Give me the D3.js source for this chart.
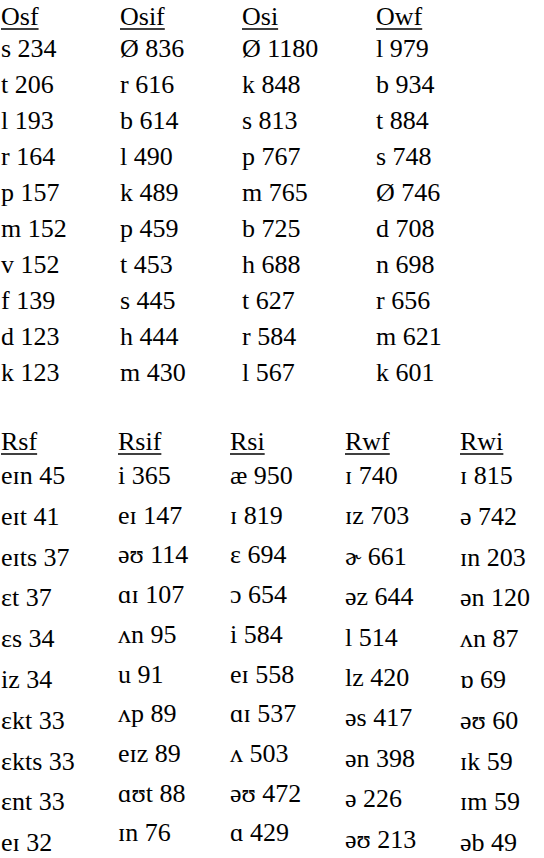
<!DOCTYPE html>
<html><head><meta charset="utf-8">
<script src="https://cdn.jsdelivr.net/npm/d3@7"></script>
<style>body{margin:0;background:#fff}</style>
</head><body><svg width="544" height="858"></svg>
<script>
// top block
var topHeads = ["Osf", "Osif", "Osi", "Owf"];
var topRows = [
  ["s 234", "t 206", "l 193", "r 164", "p 157", "m 152", "v 152", "f 139", "d 123", "k 123"],
  ["Ø 836", "r 616", "b 614", "l 490", "k 489", "p 459", "t 453", "s 445", "h 444", "m 430"],
  ["Ø 1180", "k 848", "s 813", "p 767", "m 765", "b 725", "h 688", "t 627", "r 584", "l 567"],
  ["l 979", "b 934", "t 884", "s 748", "Ø 746", "d 708", "n 698", "r 656", "m 621", "k 601"]
];
// bottom block
var botHeads = ["Rsf", "Rsif", "Rsi", "Rwf", "Rwi"];
var botRows = [
  ["eɪn 45", "eɪt 41", "eɪts 37", "ɛt 37", "ɛs 34", "iz 34", "ɛkt 33", "ɛkts 33", "ɛnt 33", "eɪ 32"],
  ["i 365", "eɪ 147", "əʊ 114", "ɑɪ 107", "ʌn 95", "u 91", "ʌp 89", "eɪz 89", "ɑʊt 88", "ɪn 76"],
  ["æ 950", "ɪ 819", "ɛ 694", "ɔ 654", "i 584", "eɪ 558", "ɑɪ 537", "ʌ 503", "əʊ 472", "ɑ 429"],
  ["ɪ 740", "ɪz 703", "ɚ 661", "əz 644", "l 514", "lz 420", "əs 417", "ən 398", "ə 226", "əʊ 213"],
  ["ɪ 815", "ə 742", "ɪn 203", "ən 120", "ʌn 87", "ɒ 69", "əʊ 60", "ɪk 59", "ɪm 59", "əb 49"]
];

var svg = d3.select("svg");
var FONT = "'Liberation Serif', 'Times New Roman', 'DejaVu Serif', serif";

function block(heads, rows, xs, headY, firstY, steps) {
  var g = svg.append("g").attr("font-family", FONT).attr("font-size", 26);
  heads.forEach(function (h, i) {
    var t = g.append("text").attr("x", xs[i]).attr("y", headY).text(h);
    var w = t.node().getComputedTextLength();
    g.append("line").attr("x1", xs[i]).attr("x2", xs[i] + w)
      .attr("y1", headY + 4).attr("y2", headY + 4)
      .attr("stroke", "#000").attr("stroke-width", 1.3);
    var y = d3.scaleLinear().domain([0, 1]).range([firstY, firstY + steps[i]]);
    g.selectAll(null).data(rows[i]).enter().append("text")
      .attr("x", xs[i]).attr("y", function (d, j) { return y(j); })
      .text(function (d) { return d; });
  });
}

block(topHeads, topRows, [1, 120, 242, 376], 25, 57, [36, 36, 36, 36]);
block(botHeads, botRows, [1, 118, 230, 345, 460], 450, 484, [40.8, 39.7, 39.7, 40.4, 40.8]);
</script></body></html>
